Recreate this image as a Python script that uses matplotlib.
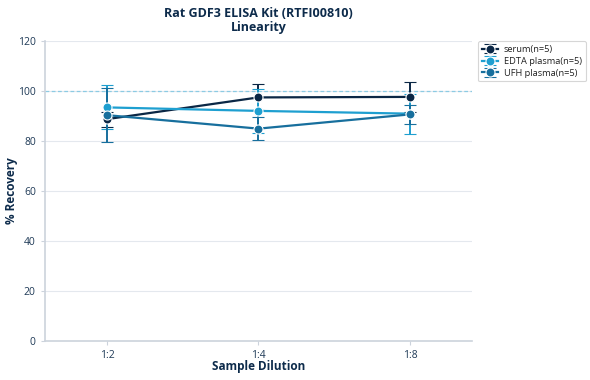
import numpy as np
import matplotlib.pyplot as plt

plt.rcParams['font.family'] = ['Open Sans', 'DejaVu Sans']

dilutions = ["1:2", "1:4", "1:8"]
serum = [88.8, 97.5, 97.7]
serum_err = [3.0, 5.2, 6.0]
edta = [93.5, 92.1, 91.0]
edta_err = [8.8, 8.7, 8.0]
ufh = [90.4, 85.0, 90.7]
ufh_err = [10.8, 4.7, 3.7]

navy = "#0d2b4b"
fig = plt.figure(figsize=(5.9, 3.8), dpi=100)
ax = fig.add_axes([0.076, 0.1026, 0.724, 0.789])

x = np.arange(len(dilutions))
series = [("serum(n=5)", serum, serum_err, "#0b2745"),
          ("EDTA plasma(n=5)", edta, edta_err, "#1e9fd0"),
          ("UFH plasma(n=5)", ufh, ufh_err, "#176f9d")]
for lab, v, e, c in series:
    ax.errorbar(x, v, yerr=e, color=c, lw=1.6, marker="o", ms=6.5,
                mec="white", mew=0.8, capsize=4, capthick=1.4, elinewidth=1.4,
                label=lab, zorder=3)

ax.axhline(100, color="#8ccbe3", lw=0.9, ls=(0, (3, 2)), zorder=1)

ax.set_xlim(-0.41, 2.41)
ax.set_ylim(0, 120)
ax.set_yticks(range(0, 121, 20))
ax.set_xticks(x)
ax.set_xticklabels(dilutions)
ax.grid(axis="y", color="#e4e8ee", lw=0.8)
ax.set_axisbelow(True)
for s in ["top", "right"]:
    ax.spines[s].set_visible(False)
for s in ["left", "bottom"]:
    ax.spines[s].set_color("#ccd3dc")
    ax.spines[s].set_linewidth(1.2)
ax.tick_params(colors="#ccd3dc", labelcolor="#1f3a57", labelsize=7.5, length=3)

ax.set_xlabel("Sample Dilution", fontsize=8.5, fontweight="bold", color=navy)
ax.set_ylabel("% Recovery", fontsize=8.5, fontweight="bold", color=navy)
ax.yaxis.set_label_coords(-0.062, 0.5)
ax.xaxis.set_label_coords(0.5, -0.063)
ax.set_title("Rat GDF3 ELISA Kit (RTFI00810)\nLinearity", fontsize=9,
             fontweight="bold", color=navy, pad=7, linespacing=1.1)

leg = ax.legend(loc="upper left", bbox_to_anchor=(1.003, 1.015), fontsize=6.7,
                frameon=True, handlelength=1.8, borderpad=0.4, labelspacing=0.3,
                handletextpad=0.6)
leg.get_frame().set_edgecolor("#cccccc")
leg.get_frame().set_linewidth(0.8)
for t in leg.get_texts():
    t.set_color("#222222")

fig.savefig("out.png", dpi=100)
